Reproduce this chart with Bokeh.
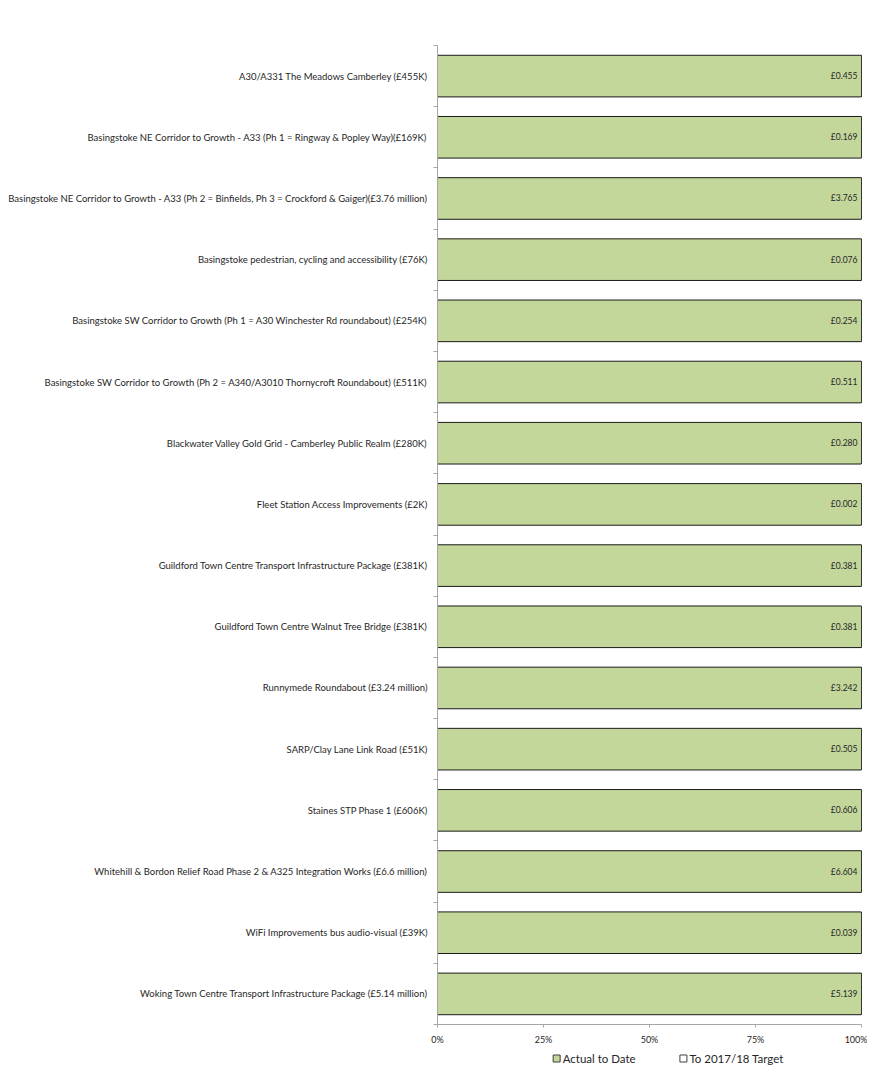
from bokeh.plotting import figure
from bokeh.layouts import column
from bokeh.models import Range1d, FixedTicker, ColumnDataSource, LabelSet
from bokeh.core.properties import value
from bokeh.embed import file_html
from bokeh.resources import INLINE

projects = [
    "A30/A331 The Meadows Camberley (£455K)",
    "Basingstoke NE Corridor to Growth - A33 (Ph 1 = Ringway & Popley Way)(£169K)",
    "Basingstoke NE Corridor to Growth - A33 (Ph 2 = Binfields, Ph 3 = Crockford & Gaiger)(£3.76 million)",
    "Basingstoke pedestrian, cycling and accessibility (£76K)",
    "Basingstoke SW Corridor to Growth (Ph 1 = A30 Winchester Rd roundabout) (£254K)",
    "Basingstoke SW Corridor to Growth (Ph 2 = A340/A3010 Thornycroft Roundabout) (£511K)",
    "Blackwater Valley Gold Grid - Camberley Public Realm (£280K)",
    "Fleet Station Access Improvements (£2K)",
    "Guildford Town Centre Transport Infrastructure Package (£381K)",
    "Guildford Town Centre Walnut Tree Bridge (£381K)",
    "Runnymede Roundabout (£3.24 million)",
    "SARP/Clay Lane Link Road (£51K)",
    "Staines STP Phase 1 (£606K)",
    "Whitehill & Bordon Relief Road Phase 2 & A325 Integration Works (£6.6 million)",
    "WiFi Improvements bus audio-visual (£39K)",
    "Woking Town Centre Transport Infrastructure Package (£5.14 million)",
]
actual_pct = [100, 100, 100, 100, 100, 100, 100, 100, 100, 100, 100, 100, 100, 100, 100, 100]
target_pct = [0, 0, 0, 0, 0, 0, 0, 0, 0, 0, 0, 0, 0, 0, 0, 0]
actual_labels = ["£0.455", "£0.169", "£3.765", "£0.076", "£0.254", "£0.511", "£0.280", "£0.002",
                 "£0.381", "£0.381", "£3.242", "£0.505", "£0.606", "£6.604", "£0.039", "£5.139"]
x_ticks = [0, 25, 50, 75, 100]
x_tick_labels = ["0%", "25%", "50%", "75%", "100%"]
series_names = ["Actual to Date", "To 2017/18 Target"]

n = len(projects)
centers = [n - i - 0.5 for i in range(n)]

FONT = "Lato"
GREEN = "#C4D79B"
TXT = "#262626"
AX = "#A6A6A6"
series_colors = [GREEN, "white"]

src = ColumnDataSource(dict(
    y=centers,
    actual=actual_pct,
    zero=[0] * n,
    end=[a + t for a, t in zip(actual_pct, target_pct)],
    lab=actual_labels,
))

W = 867
xr = Range1d(0, 100)
p = figure(width=W, height=1048, output_backend="svg", toolbar_location=None,
           x_range=xr, y_range=Range1d(0, n),
           min_border_left=437, min_border_right=6, min_border_top=45, min_border_bottom=24)
p.outline_line_color = None
p.grid.visible = False
p.background_fill_color = "white"
p.border_fill_color = "white"

p.hbar(y="y", left="zero", right="actual", height=0.68, source=src,
       fill_color=series_colors[0], line_color="#1a1a1a", line_width=1)
p.hbar(y="y", left="actual", right="end", height=0.68, source=src,
       fill_color=series_colors[1], line_color="#1a1a1a", line_width=1)

labels = LabelSet(x="actual", y="y", text="lab", source=src, x_offset=-4, y_offset=0,
                  text_align="right", text_baseline="middle", text_font=value(FONT),
                  text_font_size=value("8.5px"), text_color=value(TXT))
p.add_layout(labels)

# y axis: labels at centres, tick marks at category boundaries (minor ticks)
p.yaxis.ticker = FixedTicker(ticks=centers, minor_ticks=list(range(0, n + 1)))
p.yaxis.major_label_overrides = {c: projects[i] for i, c in enumerate(centers)}
p.yaxis.major_tick_out = 0
p.yaxis.major_tick_in = 0
p.yaxis.minor_tick_out = 4
p.yaxis.minor_tick_in = 0
p.yaxis.minor_tick_line_color = AX
p.yaxis.axis_line_color = AX
p.yaxis.major_label_standoff = 6
p.yaxis.major_label_text_font = FONT
p.yaxis.major_label_text_font_size = "9.5px"
p.yaxis.major_label_text_color = TXT

p.xaxis.ticker = FixedTicker(ticks=x_ticks)
p.xaxis.major_label_overrides = {t: l for t, l in zip(x_ticks, x_tick_labels)}
p.xaxis.major_tick_out = 3
p.xaxis.major_tick_in = 0
p.xaxis.minor_tick_line_color = None
p.xaxis.major_tick_line_color = AX
p.xaxis.axis_line_color = AX
p.xaxis.major_label_standoff = 6
p.xaxis.major_label_text_font = FONT
p.xaxis.major_label_text_font_size = "9px"
p.xaxis.major_label_text_color = TXT

# legend strip: a small figure whose frame is aligned with the main frame
LH = 27
leg = figure(width=W, height=LH, output_backend="svg", toolbar_location=None,
             x_range=xr, y_range=Range1d(LH, 0),
             min_border_left=437, min_border_right=6, min_border_top=0, min_border_bottom=0)
leg.axis.visible = False
leg.grid.visible = False
leg.outline_line_color = None
leg_x = [28.1, 58.0]
leg_y = [10, 10]
leg.scatter(x=leg_x, y=leg_y, marker="square", size=7,
            fill_color=series_colors, line_color="#404040", line_width=1)
leg.text(x=leg_x, y=leg_y, text=series_names, x_offset=6,
         text_font=value(FONT), text_font_size=value("11.5px"), text_color=TXT,
         text_baseline="middle", text_align="left")

layout = column(p, leg, spacing=0)
open("out.html", "w").write(file_html(layout, INLINE))
